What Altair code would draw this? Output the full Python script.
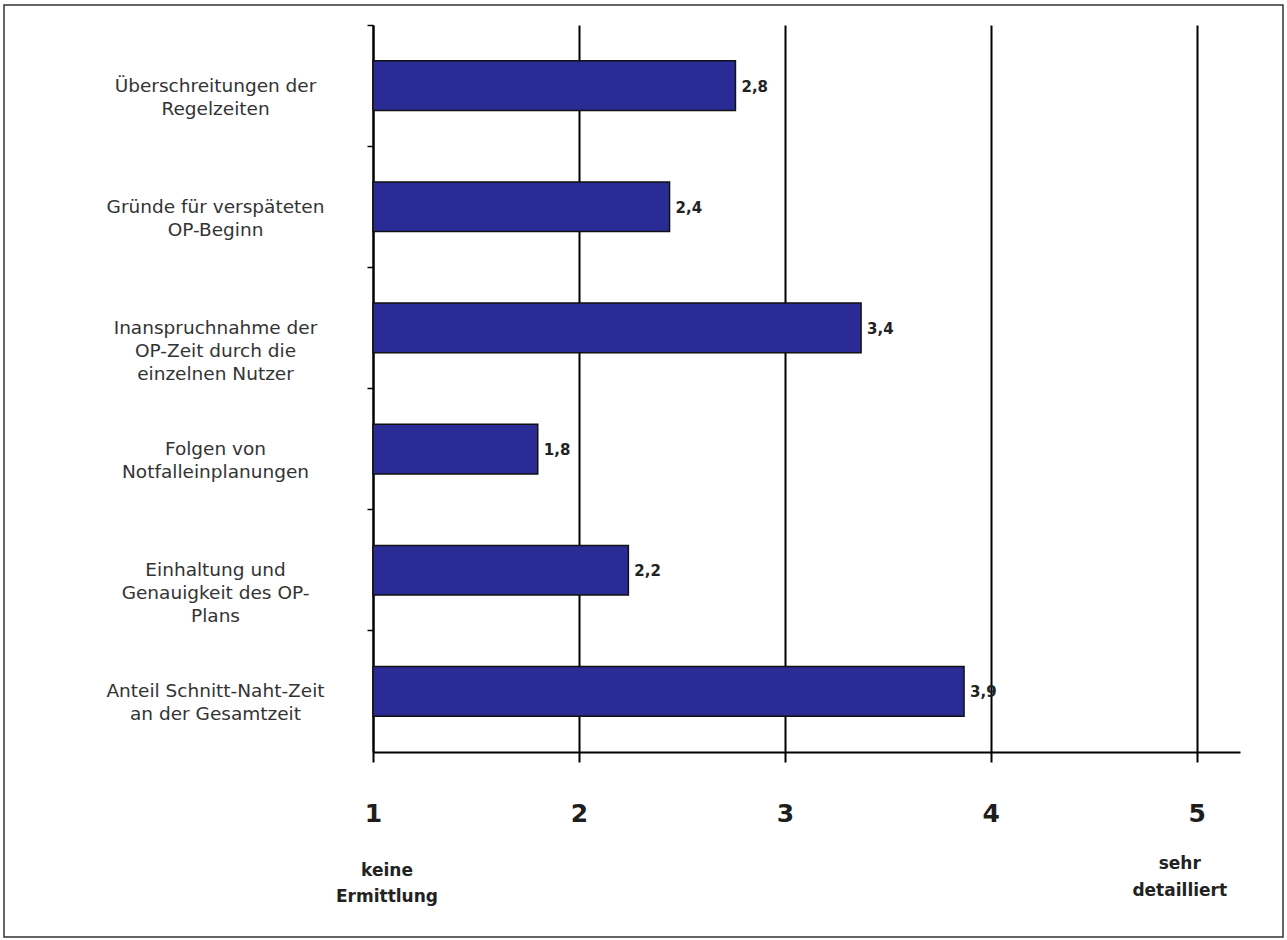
import altair as alt
import pandas as pd

categories = [
    "Überschreitungen der|Regelzeiten",
    "Gründe für verspäteten|OP-Beginn",
    "Inanspruchnahme der|OP-Zeit durch die|einzelnen Nutzer",
    "Folgen von|Notfalleinplanungen",
    "Einhaltung und|Genauigkeit des OP-|Plans",
    "Anteil Schnitt-Naht-Zeit|an der Gesamtzeit",
]
values = [2.76, 2.44, 3.37, 1.80, 2.24, 3.87]
value_labels = ["2,8", "2,4", "3,4", "1,8", "2,2", "3,9"]
x_ticks = [1, 2, 3, 4, 5]
scale_end = ["keine\nErmittlung", "sehr\ndetailliert"]
scale_end_pos = [1, 5]

df = pd.DataFrame({"cat": categories, "value": values, "label": value_labels})
ann_left = pd.DataFrame({"x": [scale_end_pos[0]], "t": [scale_end[0]]})
ann_right = pd.DataFrame({"x": [scale_end_pos[1]], "t": [scale_end[1]]})

W, H = 867, 727
FONT = "DejaVu Sans"
xscale = alt.Scale(domain=[1, 5.21], nice=False, zero=False)
yscale = alt.Scale(paddingInner=0, paddingOuter=0)

x_axis = alt.Axis(
    values=x_ticks, title=None, grid=True, gridColor="black", gridWidth=2, gridOpacity=1,
    domainColor="black", domainWidth=2, tickColor="black", tickWidth=2, tickSize=10,
    labelFont=FONT, labelFontSize=25, labelFontWeight="bold", labelColor="#1e1e1e",
    labelPadding=51, labelBaseline="middle", format="d", labelFlush=False,
)
y_axis = alt.Axis(
    title=None, domainColor="black", domainWidth=2, tickColor="black", tickWidth=1.5, tickSize=6,
    bandPosition=0, labelExpr="split(datum.label, '|')", labelAlign="center",
    labelBaseline="middle", labelPadding=152, labelFont=FONT, labelFontSize=18.5,
    labelColor="#333333", labelLineHeight=23, labelLimit=400, grid=False,
)

bars = alt.Chart(df).mark_bar(
    height=alt.RelativeBandSize(0.41), color="#2b2b96", stroke="#111111", strokeWidth=1.5
).encode(
    x=alt.X("value:Q", scale=xscale, axis=x_axis),
    x2=alt.datum(1),
    y=alt.Y("cat:N", sort=categories, scale=yscale, axis=y_axis),
)

texts = alt.Chart(df).mark_text(
    align="left", baseline="middle", dx=6, dy=1, font=FONT, fontSize=15,
    fontWeight="bold", color="#222222",
).encode(
    x=alt.X("value:Q", scale=xscale),
    y=alt.Y("cat:N", sort=categories, scale=yscale),
    text="label:N",
)

ann1 = alt.Chart(ann_left).mark_text(
    align="center", baseline="middle", lineBreak="\n", lineHeight=26, dx=14,
    font=FONT, fontSize=17, fontWeight="bold", color="#222222",
).encode(x=alt.X("x:Q", scale=xscale), y=alt.value(846), text="t:N")

ann2 = alt.Chart(ann_right).mark_text(
    align="center", baseline="middle", lineBreak="\n", lineHeight=27, dx=-17,
    font=FONT, fontSize=17, fontWeight="bold", color="#222222",
).encode(x=alt.X("x:Q", scale=xscale), y=alt.value(839), text="t:N")

frame = alt.Chart(pd.DataFrame({"a": [0]})).mark_rect(
    fill="transparent", stroke="#333333", strokeWidth=1.5
).encode(x=alt.value(-369), x2=alt.value(910), y=alt.value(-20), y2=alt.value(912))

chart = alt.layer(frame, bars, texts, ann1, ann2).properties(
    width=W, height=H,
    autosize=alt.AutoSizeParams(type="none"),
    padding={"left": 373, "top": 25, "right": 47, "bottom": 188},
    view=alt.ViewBackground(stroke="transparent", strokeOpacity=0, strokeWidth=0),
).configure_view(stroke="transparent", strokeWidth=0).configure(
    background="white", style={"cell": {"stroke": "transparent", "strokeWidth": 0}}
)

chart.save("out.html", embed_options={"renderer": "svg", "actions": False})
